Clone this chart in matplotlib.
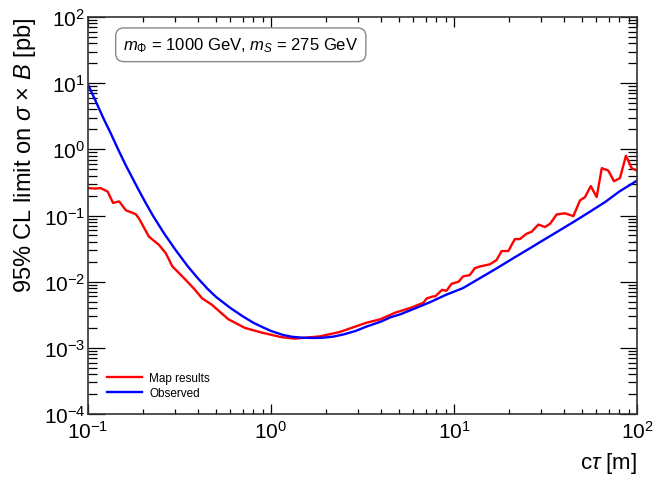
import matplotlib
matplotlib.use("Agg")
import matplotlib.pyplot as plt

plt.rcParams["font.family"] = ["Liberation Sans", "DejaVu Sans"]
plt.rcParams["mathtext.fontset"] = "custom"
plt.rcParams["mathtext.rm"] = "Liberation Sans"
plt.rcParams["mathtext.it"] = "Liberation Sans:italic"
plt.rcParams["mathtext.bf"] = "Liberation Sans:bold"

# limite dalla mappa (rosso)
ctau_map = [0.1, 0.11, 0.117, 0.128, 0.137, 0.148, 0.161, 0.182, 0.19, 0.215,
            0.244, 0.266, 0.289, 0.321, 0.349, 0.38, 0.42, 0.474, 0.585, 0.72,
            0.89, 1.14, 1.35, 1.85, 2.38, 3.33, 3.95, 4.77, 5.76, 6.8,
            7.1, 7.7, 7.9, 8.6, 9.1, 9.7, 10.6, 11.2, 12.2, 13.0,
            13.9, 15.7, 17.1, 18.2, 19.8, 21.5, 22.9, 24.9, 26.6, 28.9,
            31.4, 33.5, 36.4, 40.4, 44.9, 48.8, 52.0, 55.9, 60.2, 64.2,
            69.7, 74.8, 80.7, 87.0, 93.5, 100.0]
limit_map = [0.26, 0.255, 0.26, 0.23, 0.155, 0.163, 0.12, 0.105, 0.09, 0.048,
             0.036, 0.027, 0.017, 0.0127, 0.010, 0.0078, 0.0056, 0.0045, 0.0027, 0.0020,
             0.0017, 0.00145, 0.00138, 0.00149, 0.00174, 0.0024, 0.0027, 0.0034, 0.0040, 0.0048,
             0.0056, 0.0060, 0.0060, 0.0075, 0.0073, 0.0093, 0.0100, 0.0120, 0.0126, 0.016,
             0.017, 0.0183, 0.0213, 0.029, 0.029, 0.044, 0.044, 0.053, 0.057, 0.073,
             0.067, 0.075, 0.104, 0.108, 0.098, 0.169, 0.19, 0.278, 0.19, 0.52,
             0.477, 0.33, 0.367, 0.80, 0.52, 0.477]

# limite osservato (blu)
ctau_obs = [0.1, 0.11, 0.121, 0.133, 0.146, 0.16, 0.186, 0.205, 0.226, 0.26,
            0.3, 0.35, 0.4, 0.45, 0.5, 0.6, 0.7, 0.8, 0.9, 1.0,
            1.15, 1.3, 1.5, 1.7, 1.9, 2.2, 2.5, 2.9, 3.33, 4.0,
            4.5, 5.07, 6.2, 7.4, 9.0, 11.2, 14.0, 17.1, 21.0, 26.0,
            31.0, 37.9, 45.0, 55.0, 67.0, 80.0, 100.0]
limit_obs = [9.5, 5.4, 3.0, 1.75, 1.0, 0.59, 0.265, 0.161, 0.10, 0.054,
             0.0305, 0.0172, 0.0111, 0.0078, 0.0059, 0.0040, 0.0030, 0.0024, 0.00205, 0.0018,
             0.00158, 0.00147, 0.00142, 0.00141, 0.00142, 0.00148, 0.0016, 0.0018, 0.0021, 0.0025,
             0.0029, 0.0032, 0.0040, 0.0049, 0.0063, 0.0080, 0.0115, 0.0159, 0.0225, 0.032,
             0.043, 0.060, 0.080, 0.113, 0.16, 0.23, 0.337]

fig = plt.figure(figsize=(6.53, 4.85), dpi=100)
ax = fig.add_axes([0.1348, 0.1443, 0.8407, 0.8186])

ax.plot(ctau_map, limit_map, color="#ff0000", lw=1.7, label="Map results")
ax.plot(ctau_obs, limit_obs, color="#0000ff", lw=1.7, label="Observed")

ax.set_xscale("log")
ax.set_yscale("log")
ax.set_xlim(0.1, 100)
ax.set_ylim(1e-4, 1e2)

ax.tick_params(axis="both", which="both", direction="in", top=True, right=True,
               colors="black", width=0.9)
ax.tick_params(axis="y", which="major", length=12, labelsize=15, pad=2)
ax.tick_params(axis="y", which="minor", length=6.5)
ax.tick_params(axis="x", which="major", length=7, labelsize=15, pad=4)
ax.tick_params(axis="x", which="minor", length=3.6)
ax.yaxis.set_minor_locator(matplotlib.ticker.LogLocator(base=10, subs=range(2, 10), numticks=20))
ax.yaxis.set_minor_formatter(matplotlib.ticker.NullFormatter())
for s in ax.spines.values():
    s.set_linewidth(1.2)
    s.set_color("#333333")

ax.set_ylabel(r"95% CL limit on $\sigma$ $\times$ $B$ [pb]", fontsize=17, loc="top")
ax.set_xlabel(r"c$\tau$ [m]", fontsize=16, loc="right", labelpad=6)

ax.text(0.064, 0.93, r"$m_{\Phi}$ = 1000 GeV, $m_{S}$ = 275 GeV", transform=ax.transAxes,
        fontsize=12, va="center", ha="left",
        bbox=dict(boxstyle="round,pad=0.45,rounding_size=0.5", fc="white", ec="#888888", lw=1))

ax.legend(loc="lower left", bbox_to_anchor=(0.015, 0.01), frameon=False, fontsize=8.5,
          handlelength=3.0, handletextpad=0.6, labelspacing=0.25)

fig.savefig("out.png", dpi=100)
